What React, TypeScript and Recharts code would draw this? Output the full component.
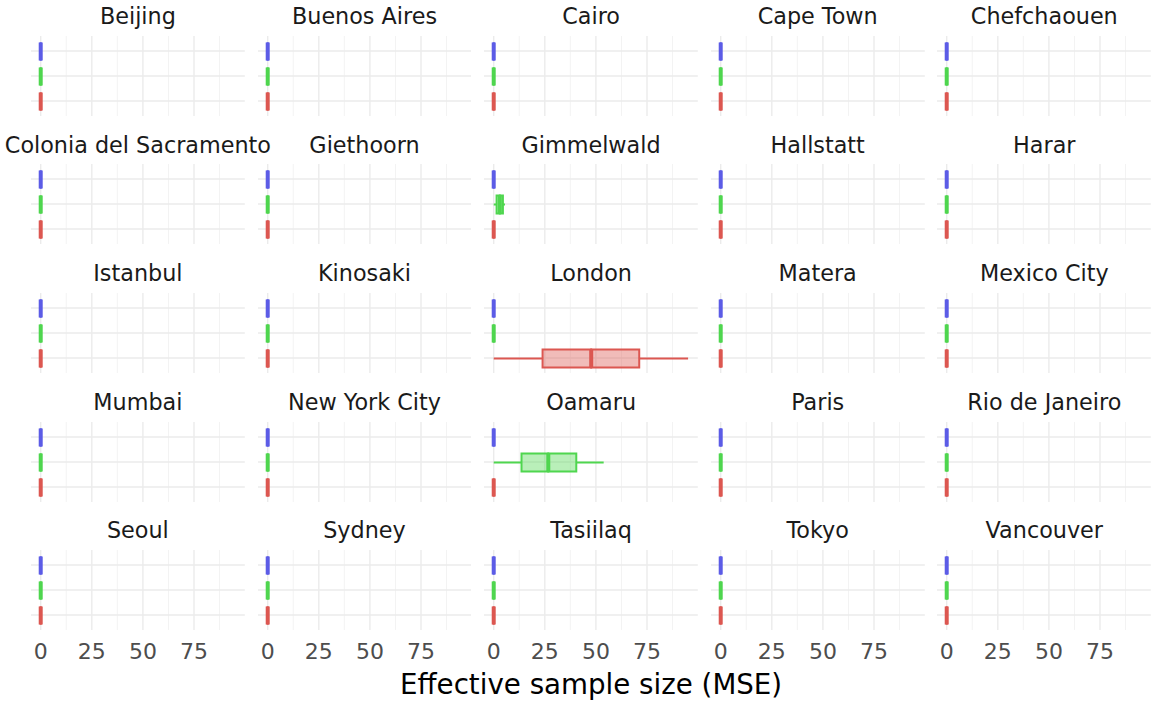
import React from 'react';
import { BarChart, Bar, XAxis, YAxis, CartesianGrid } from 'recharts';

// ---------- data ----------
const cities = [
  'Beijing', 'Buenos Aires', 'Cairo', 'Cape Town', 'Chefchaouen',
  'Colonia del Sacramento', 'Giethoorn', 'Gimmelwald', 'Hallstatt', 'Harar',
  'Istanbul', 'Kinosaki', 'London', 'Matera', 'Mexico City',
  'Mumbai', 'New York City', 'Oamaru', 'Paris', 'Rio de Janeiro',
  'Seoul', 'Sydney', 'Tasiilaq', 'Tokyo', 'Vancouver',
];
const groups = ['Method A', 'Method B', 'Method C'];
const groupColors = ['#5C5CE6', '#4FD64F', '#DC5751'];
const xTicks = [0, 25, 50, 75];
const minorTicks = [12.5, 37.5, 62.5, 87.5];

// five-number summaries: [min, q1, median, q3, max]
const zeroSummary = [0, 0, 0, 0, 0];
const gimmelwaldB = [0, 1.4, 3, 4.5, 5.5];
const londonC = [0, 23.9, 47.7, 71.2, 95.1];
const oamaruB = [0, 13.6, 26.7, 40.4, 53.8];

const summaries: Record<string, number[][]> = {
  Gimmelwald: [zeroSummary, gimmelwaldB, zeroSummary],
  London: [zeroSummary, zeroSummary, londonC],
  Oamaru: [zeroSummary, oamaruB, zeroSummary],
};

const allSummaries = cities.flatMap((c) => summaries[c] ?? [zeroSummary]);
const dataMin = Math.min(...allSummaries.map((s) => s[0]));
const dataMax = Math.max(...allSummaries.map((s) => s[4]));
const expand = (dataMax - dataMin) * 0.05;
const xDomain: [number, number] = [dataMin - expand, dataMax + expand];

const rowsFor = (city: string) =>
  groups.map((g, i) => {
    const s = summaries[city]?.[i] ?? zeroSummary;
    return {
      group: g,
      color: groupColors[i],
      base: s[0],
      lw: s[1] - s[0],
      b1: s[2] - s[1],
      b2: s[3] - s[2],
      hw: s[4] - s[3],
    };
  });

// ---------- layout ----------
const FONT = 'DejaVu Sans';
const PANEL_W = 213.8;
const PANEL_H = 80;
const COL_PITCH = 226.6;
const ROW_PITCH = 128.6;
const LEFT0 = 31;
const TOP0 = 35.7;
const LW = 2;

const Empty = () => <g />;

const Whisker = (p: any) => {
  const { x, y, width, height } = p;
  const color = p.payload?.color ?? p.color;
  const cy = y + height / 2;
  return <line x1={x} x2={x + width} y1={cy} y2={cy} stroke={color} strokeWidth={LW} />;
};

const BoxLow = (p: any) => {
  const { x, y, width, height } = p;
  const color = p.payload?.color ?? p.color;
  return (
    <g>
      <path
        d={`M${x},${y}h${width}v${height}h${-width}Z`}
        fill={color}
        fillOpacity={0.4}
        stroke={color}
        strokeWidth={LW}
      />
      <line x1={x + width} x2={x + width} y1={y} y2={y + height} stroke={color} strokeWidth={LW * 2} />
    </g>
  );
};

const BoxHigh = (p: any) => {
  const { x, y, width, height } = p;
  const color = p.payload?.color ?? p.color;
  return (
    <path
      d={`M${x},${y}h${width}v${height}h${-width}Z`}
      fill={color}
      fillOpacity={0.4}
      stroke={color}
      strokeWidth={LW}
    />
  );
};

const Panel = ({ city, bottom }: { city: string; bottom: boolean }) => {
  const data = rowsFor(city);
  return (
    <BarChart
      layout="vertical"
      width={PANEL_W}
      height={bottom ? PANEL_H + 45 : PANEL_H}
      data={data}
      margin={{ top: 0, right: 0, bottom: 0, left: 0 }}
      barSize={18}
    >
      <CartesianGrid horizontal={false} verticalValues={minorTicks} stroke="#F3F3F3" strokeWidth={1} />
      <CartesianGrid syncWithTicks stroke="#EBEBEB" strokeWidth={1.4} />
      <XAxis
        type="number"
        domain={xDomain}
        ticks={xTicks}
        interval={0}
        hide={!bottom}
        height={45}
        axisLine={false}
        tickLine={false}
        tickSize={6}
        tickMargin={7.6}
        tick={{ fontSize: 22, fill: '#4D4D4D', fontFamily: FONT }}
        allowDataOverflow
      />
      <YAxis type="category" dataKey="group" hide padding={{ top: 2.5, bottom: 2.5 }} />
      <Bar dataKey="base" stackId="s" shape={Empty} isAnimationActive={false} />
      <Bar dataKey="lw" stackId="s" shape={Whisker} isAnimationActive={false} />
      <Bar dataKey="b1" stackId="s" shape={BoxLow} isAnimationActive={false} />
      <Bar dataKey="b2" stackId="s" shape={BoxHigh} isAnimationActive={false} />
      <Bar dataKey="hw" stackId="s" shape={Whisker} isAnimationActive={false} />
    </BarChart>
  );
};

export default function App() {
  return (
    <div
      style={{
        position: 'absolute',
        left: 0,
        top: 0,
        width: 1152,
        height: 703,
        background: '#FFFFFF',
        fontFamily: FONT,
      }}
    >
      {cities.map((city, i) => {
        const col = i % 5;
        const row = Math.floor(i / 5);
        return (
          <div
            key={city}
            style={{
              position: 'absolute',
              left: LEFT0 + col * COL_PITCH,
              top: TOP0 + row * ROW_PITCH,
            }}
          >
            <Panel city={city} bottom={row === 4} />
          </div>
        );
      })}
      <svg
        width={1152}
        height={703}
        style={{ position: 'absolute', left: 0, top: 0, pointerEvents: 'none' }}
      >
        {cities.map((city, i) => {
          const col = i % 5;
          const row = Math.floor(i / 5);
          return (
            <text
              key={city}
              x={LEFT0 + col * COL_PITCH + PANEL_W / 2}
              y={TOP0 + row * ROW_PITCH - 11.7}
              textAnchor="middle"
              fontSize={22.3}
              fill="#1A1A1A"
              fontFamily={FONT}
            >
              {city}
            </text>
          );
        })}
        <text
          x={LEFT0 + (4 * COL_PITCH + PANEL_W) / 2}
          y={694.3}
          textAnchor="middle"
          fontSize={27.7}
          fill="#000000"
          fontFamily={FONT}
        >
          Effective sample size (MSE)
        </text>
      </svg>
    </div>
  );
}
